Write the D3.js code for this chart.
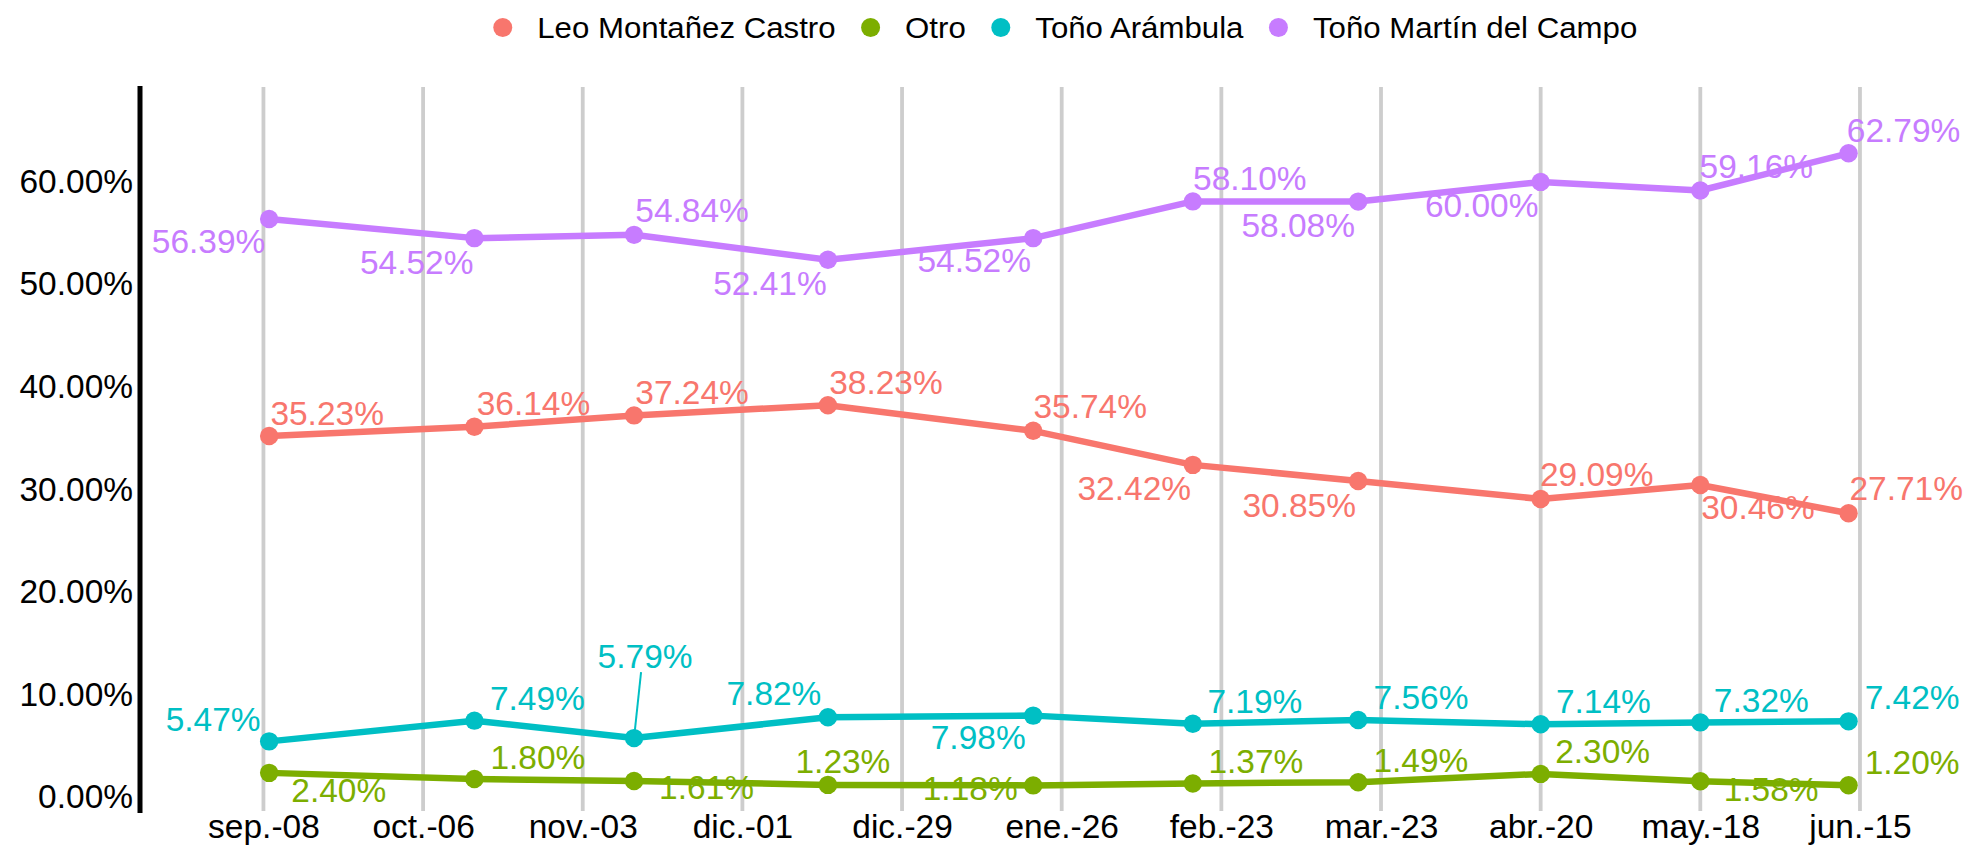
<!DOCTYPE html>
<html>
<head>
<meta charset="utf-8">
<script src="https://cdn.jsdelivr.net/npm/d3@7"></script>
<style>
  body { margin: 0; background: #fff; }
  text { font-family: "Liberation Sans", Arial, Helvetica, sans-serif; }
</style>
</head>
<body>
<script>
// candidates and their colours (ggplot default hues)
var seriesNames = ["Leo Montañez Castro", "Otro", "Toño Arámbula", "Toño Martín del Campo"];
var seriesColors = ["#F8766D", "#7CAE00", "#00BFC4", "#C77CFF"];

// poll dates
var pollDates = ["2024-09-09", "2024-10-15", "2024-11-12", "2024-12-16", "2025-01-21",
                 "2025-02-18", "2025-03-19", "2025-04-20", "2025-05-18", "2025-06-13"];

// values in %
var leoValues = [35.23, 36.14, 37.24, 38.23, 35.74, 32.42, 30.85, 29.09, 30.46, 27.71];
var otroValues = [2.40, 1.80, 1.61, 1.23, 1.18, 1.37, 1.49, 2.30, 1.58, 1.20];
var arambulaValues = [5.47, 7.49, 5.79, 7.82, 7.98, 7.19, 7.56, 7.14, 7.32, 7.42];
var martinValues = [56.39, 54.52, 54.84, 52.41, 54.52, 58.10, 58.08, 60.00, 59.16, 62.79];

// axis ticks
var tickDates = ["2024-09-08", "2024-10-06", "2024-11-03", "2024-12-01", "2024-12-29", "2025-01-26",
                 "2025-02-23", "2025-03-23", "2025-04-20", "2025-05-18", "2025-06-15"];
var tickLabels = ["sep.-08", "oct.-06", "nov.-03", "dic.-01", "dic.-29", "ene.-26",
                  "feb.-23", "mar.-23", "abr.-20", "may.-18", "jun.-15"];
var yTicks = [0, 10, 20, 30, 40, 50, 60];

// label placement (px from the point: centre x, baseline y) - repel style
var labelOffsets = [
  [[58,-11],[59,-12],[58,-11],[58,-11],[57,-13],[-58.6,35],[-59,35.7],[56,-12.6],[57.6,34.3],[57.6,-13.3]],
  [[69.6,29],[63.5,-10],[72.5,18.4],[15,-12],[-63,15],[63,-10],[62.7,-10.6],[62,-11.3],[70.8,20],[63.6,-11]],
  [[-56,-10],[63,-10.7],[11,-70,1],[-54,-12],[-55,33.3],[62,-10.7],[62.8,-11.4],[62.7,-11.7],[61,-10],[63.6,-12.3]],
  [[-60.6,34],[-57.7,35.7],[58,-13.3],[-58,35.7],[-59,33.7],[57,-11.7],[-60,35.7],[-59,35],[56,-12.4],[55,-11.6]]
];

var allValues = [leoValues, otroValues, arambulaValues, martinValues];

var width = 1970, height = 848;
var sx = 1.03; // glyphs a touch wide in the original
var fontSize = 32.5, legendFont = 30.3;

var svg = d3.select('body').append('svg')
  .attr('width', width)
  .attr('height', height);

var x = d3.scaleUtc()
  .domain([new Date("2024-08-17"), new Date("2025-07-03")])
  .range([138, 1962.6]);

var y = d3.scaleLinear()
  .domain([-1.316, 69.25])
  .range([811, 87]);

var data = seriesNames.map(function(name, s) {
  return {
    name: name,
    color: seriesColors[s],
    points: pollDates.map(function(d, i) {
      return { date: new Date(d), value: allValues[s][i], off: labelOffsets[s][i] };
    })
  };
});

// vertical grid
svg.append('g').selectAll('line')
  .data(tickDates)
  .enter()
  .append('line')
  .attr('x1', function(d) { return x(new Date(d)); })
  .attr('x2', function(d) { return x(new Date(d)); })
  .attr('y1', y.range()[1])
  .attr('y2', y.range()[0])
  .attr('stroke', '#cdcdcd')
  .attr('stroke-width', 3.8);

// y axis
var yAxis = svg.append('g')
  .attr('transform', 'translate(140,0)')
  .call(d3.axisLeft(y).tickValues(yTicks).tickSize(0).tickPadding(6.8)
    .tickFormat(function(d) { return d3.format('.2f')(d) + '%'; }));
yAxis.select('.domain').remove();
yAxis.selectAll('text')
  .attr('font-size', fontSize)
  .attr('font-family', null)
  .attr('fill', '#000')
  .attr('transform', 'scale(' + sx + ',1)');
svg.append('line')
  .attr('x1', 140).attr('x2', 140)
  .attr('y1', 86).attr('y2', 813)
  .attr('stroke', '#000')
  .attr('stroke-width', 5);

// x axis
var xAxis = svg.append('g')
  .attr('transform', 'translate(0,811)')
  .call(d3.axisBottom(x).tickValues(tickDates.map(function(d) { return new Date(d); }))
    .tickSize(0).tickPadding(3.9)
    .tickFormat(function(d, i) { return tickLabels[i]; }));
xAxis.select('.domain').remove();
xAxis.selectAll('text')
  .attr('font-size', fontSize)
  .attr('font-family', null)
  .attr('fill', '#000')
  .attr('transform', 'scale(' + sx + ',1)');

// data labels (drawn under the lines)
data.forEach(function(s) {
  var g = svg.append('g');
  g.selectAll('text')
    .data(s.points)
    .enter()
    .append('text')
    .attr('transform', function(d) {
      return 'translate(' + (x(d.date) + d.off[0]) + ',' + (y(d.value) + d.off[1]) + ') scale(' + sx + ',1)';
    })
    .attr('text-anchor', 'middle')
    .attr('font-size', fontSize)
    .attr('fill', s.color)
    .text(function(d) { return d3.format('.2f')(d.value) + '%'; });
  g.selectAll('line')
    .data(s.points.filter(function(d) { return d.off[2]; }))
    .enter()
    .append('line')
    .attr('x1', function(d) { return x(d.date) + d.off[0] - 4; })
    .attr('y1', function(d) { return y(d.value) + d.off[1] + 4; })
    .attr('x2', function(d) { return x(d.date) + 0.5; })
    .attr('y2', function(d) { return y(d.value) - 5; })
    .attr('stroke', s.color)
    .attr('stroke-width', 2);
});

// lines and points
var line = d3.line()
  .x(function(d) { return x(d.date); })
  .y(function(d) { return y(d.value); });

data.forEach(function(s) {
  svg.append('path')
    .datum(s.points)
    .attr('d', line)
    .attr('fill', 'none')
    .attr('stroke', s.color)
    .attr('stroke-width', 6.5)
    .attr('stroke-linejoin', 'round');
  svg.append('g').selectAll('circle')
    .data(s.points)
    .enter()
    .append('circle')
    .attr('cx', function(d) { return x(d.date); })
    .attr('cy', function(d) { return y(d.value); })
    .attr('r', 9.2)
    .attr('fill', s.color);
});

// legend
var legend = svg.append('g');
var cursor = 0;
seriesNames.forEach(function(name, i) {
  var item = legend.append('g');
  item.append('circle')
    .attr('cx', 0).attr('cy', 0)
    .attr('r', 9.5)
    .attr('fill', seriesColors[i]);
  var t = item.append('text')
    .attr('transform', 'translate(34.5,' + (legendFont * 0.36) + ') scale(' + sx + ',1)')
    .attr('font-size', legendFont)
    .attr('fill', '#000')
    .text(name);
  var w = t.node().getComputedTextLength() * sx;
  item.attr('transform', 'translate(' + cursor + ',0)');
  cursor += 34.5 + w + 35;
});
var legendWidth = cursor - 35 + 10;
legend.attr('transform', 'translate(' + (1065 - legendWidth / 2 + 10) + ',27.5)');
</script>
</body>
</html>
